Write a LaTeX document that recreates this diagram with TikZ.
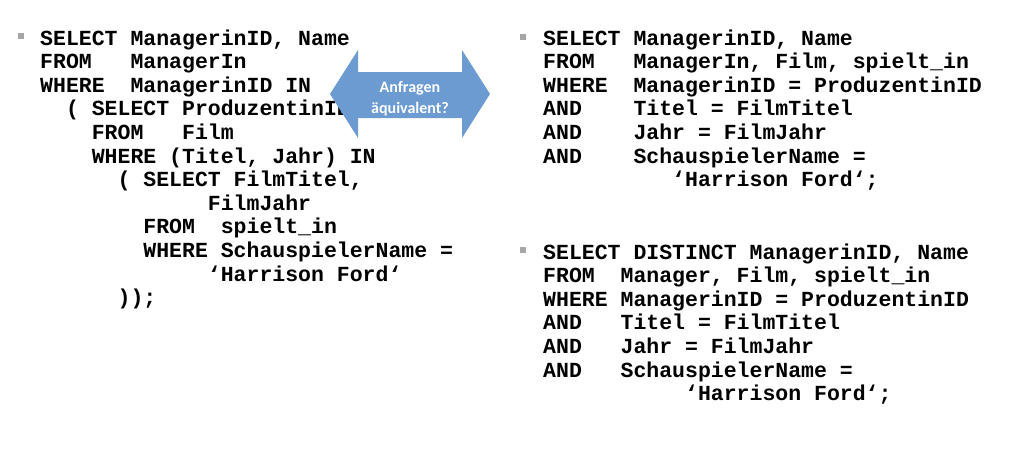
\documentclass[tikz,border=0pt]{standalone}
\usepackage{fontspec}
\setmonofont{Liberation Mono}
\newfontfamily\calibri{Carlito}
\definecolor{arrowblue}{HTML}{6C9BD2}
\definecolor{bulletgray}{HTML}{A6A6A6}
\tikzset{
  sqlcode/.style={anchor=base west, inner sep=0pt, align=left,
    font={\ttfamily\bfseries\fontsize{21.5pt}{23.6pt}\selectfont}},
  bullet/.style={fill=bulletgray, inner sep=0pt, minimum size=6pt},
}
\begin{document}
\begin{tikzpicture}[x=1pt,y=-1pt]
  \useasboundingbox (0,0) rectangle (1022,464);
  \def\lx{40} % left column
  \def\rx{543} % right column

  \foreach \name/\pos in {bl/{(20.5,36)}, brt/{(523,37)}, brb/{(523,250)}}
    \node[bullet] (\name) at \pos {};

  % anchor base = baseline of the last line
  \node[sqlcode] (qnested) at (\lx,304.6) {SELECT ManagerinID, Name\\
FROM~~~ManagerIn\\
WHERE~~ManagerinID IN\\
~~( SELECT ProduzentinID\\
~~~~FROM~~~Film\\
~~~~WHERE (Titel, Jahr) IN\\
~~~~~~( SELECT FilmTitel,\\
~~~~~~~~~~~~~FilmJahr\\
~~~~~~~~FROM~~spielt\_in\\
~~~~~~~~WHERE SchauspielerName =\\
~~~~~~~~~~~~~‘Harrison Ford‘\\
~~~~~~));};

  \node[sqlcode] (qjoin) at (\rx,186.6) {SELECT ManagerinID, Name\\
FROM~~~ManagerIn, Film, spielt\_in\\
WHERE~~ManagerinID = ProduzentinID\\
AND~~~~Titel = FilmTitel\\
AND~~~~Jahr = FilmJahr\\
AND~~~~SchauspielerName =\\
~~~~~~~~~~‘Harrison Ford‘;};

  \node[sqlcode] (qdistinct) at (\rx,400.6) {SELECT DISTINCT ManagerinID, Name\\
FROM~~Manager, Film, spielt\_in\\
WHERE ManagerinID = ProduzentinID\\
AND~~~Titel = FilmTitel\\
AND~~~Jahr = FilmJahr\\
AND~~~SchauspielerName =\\
~~~~~~~~~~~‘Harrison Ford‘;};

  % double arrow on top of the code
  \fill[arrowblue] (330,94) -- (358,50) -- (358,72) -- (462,72) -- (462,50)
    -- (490,94) -- (462,138) -- (462,118) -- (358,118) -- (358,138) -- cycle;
  \node[text=white, align=center, font={\calibri\bfseries\fontsize{16pt}{21pt}\selectfont}]
    (ask) at (410,99) {Anfragen\\äquivalent?};
\end{tikzpicture}
\end{document}
